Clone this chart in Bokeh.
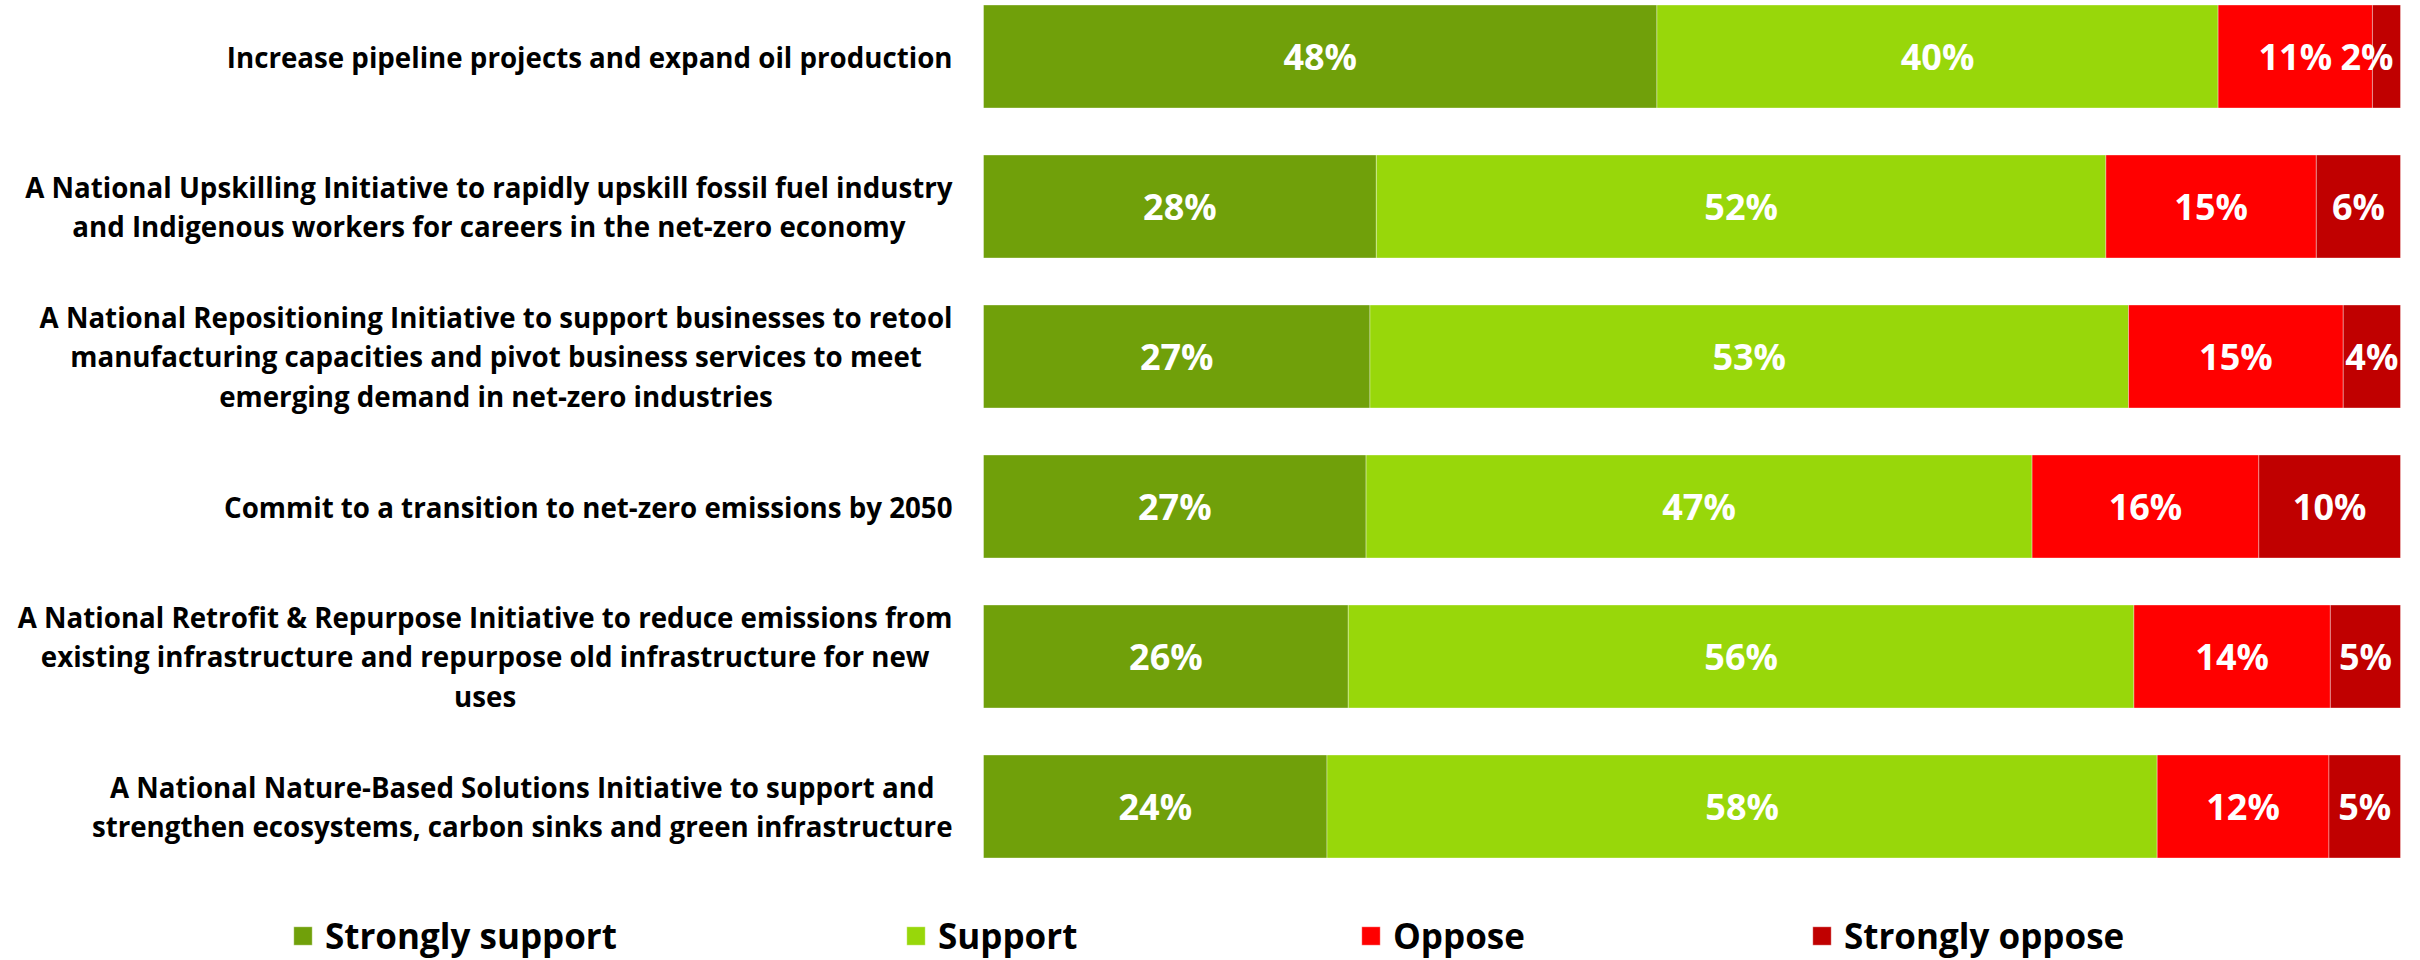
from bokeh.plotting import figure
from bokeh.models import Range1d, ColumnDataSource, Legend, LegendItem
from bokeh.core.properties import value
from bokeh.embed import file_html
from bokeh.resources import INLINE

# ---- data ----
statements = [
    "Increase pipeline projects and expand oil production",
    "A National Upskilling Initiative to rapidly upskill fossil fuel industry\nand Indigenous workers for careers in the net-zero economy",
    "A National Repositioning Initiative to support businesses to retool\nmanufacturing capacities and pivot business services to meet\nemerging demand in net-zero industries",
    "Commit to a transition to net-zero emissions by 2050",
    "A National Retrofit & Repurpose Initiative to reduce emissions from\nexisting infrastructure and repurpose old infrastructure for new\nuses",
    "A National Nature-Based Solutions Initiative to support and\nstrengthen ecosystems, carbon sinks and green infrastructure",
]
strongly_support = [48, 28, 27, 27, 26, 24]
support = [40, 52, 53, 47, 56, 58]
oppose = [11, 15, 15, 16, 14, 12]
strongly_oppose = [2, 6, 4, 10, 5, 5]
series_names = ["Strongly support", "Support", "Oppose", "Strongly oppose"]
series_colors = ["#70A00A", "#98D70A", "#FF0000", "#C00000"]

# ---- layout ----
W, H = 2420, 960
BAR_LEFT, BAR_RIGHT = 983, 2400
PX = BAR_RIGHT - BAR_LEFT
ROW_PITCH, FIRST_ROW = 150, 56
FONT = "Open Sans"

p = figure(width=W, height=H, output_backend="svg", toolbar_location=None,
           x_range=Range1d(-BAR_LEFT / PX, (W - BAR_LEFT) / PX),
           y_range=Range1d((H - FIRST_ROW) / ROW_PITCH, -FIRST_ROW / ROW_PITCH),
           min_border=0, outline_line_color=None)
p.axis.visible = False
p.grid.visible = False
p.background_fill_color = "white"
p.border_fill_color = "white"

series = [strongly_support, support, oppose, strongly_oppose]
n = len(statements)
rows = list(range(n))
totals = [sum(s[i] for s in series) for i in rows]

left = [0.0] * n
renderers = []
lx, ly, lt, la, lo = [], [], [], [], []
for k, (vals, name, col) in enumerate(zip(series, series_names, series_colors)):
    shares = [vals[i] / totals[i] for i in rows]
    right = [left[i] + shares[i] for i in rows]
    src = ColumnDataSource(dict(y=rows, left=left, right=right))
    r = p.hbar(y="y", left="left", right="right", height=103 / ROW_PITCH, source=src,
               fill_color=col, line_color="white", line_alpha=0.35, line_width=1)
    renderers.append(r)
    for i in rows:
        last = k == len(series) - 1
        if last and vals[i] < 4:
            lx.append(right[i]); la.append("right"); lo.append(-7)
        else:
            lx.append((left[i] + right[i]) / 2); la.append("center"); lo.append(0)
        ly.append(i)
        lt.append(f"{vals[i]}%")
    left = right

lab = ColumnDataSource(dict(x=lx, y=ly, text=lt, align=la, off=lo))
p.text(x="x", y="y", text="text", source=lab, text_align="align", x_offset="off",
       text_baseline="middle", text_color="white", text_font=value(FONT),
       text_font_style="bold", text_font_size="36px")

# category labels: block anchored at its right edge, lines centered
p.text(x=[-31 / PX] * n, y=rows, text=statements, anchor="center_right",
       text_align="center", text_baseline="middle", text_color="black",
       text_font=value(FONT), text_font_style="bold", text_font_size="27.7px",
       text_line_height=1.03)

legend_x = [291, 904, 1359, 1810]
for r, name, x0 in zip(renderers, series_names, legend_x):
    lg = Legend(items=[LegendItem(label=name, renderers=[r])], location=(x0, 1),
                orientation="horizontal", glyph_width=23, glyph_height=23,
                label_text_font=FONT, label_text_font_style="bold",
                label_text_font_size="35px", label_text_color="black",
                background_fill_alpha=0, border_line_alpha=0, padding=0, margin=0,
                spacing=0, label_standoff=11)
    p.add_layout(lg, "center")

open("out.html", "w").write(file_html(p, INLINE))
